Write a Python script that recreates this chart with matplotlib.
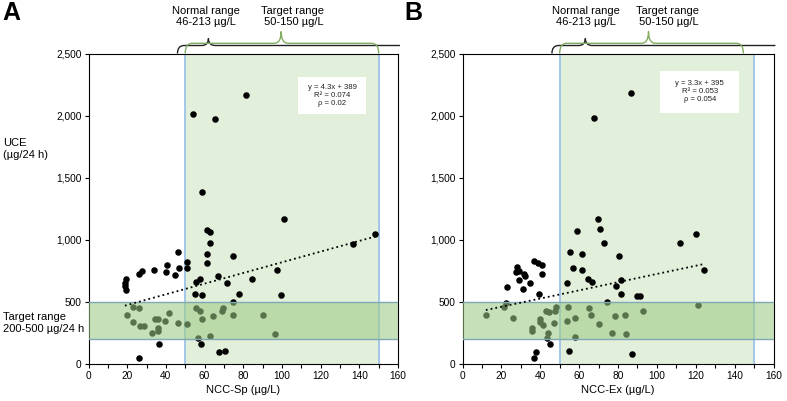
import matplotlib
matplotlib.use('Agg')
import matplotlib.pyplot as plt
import numpy as np
from matplotlib.path import Path
from matplotlib.patches import PathPatch, Rectangle
import matplotlib.transforms as mtransforms
from matplotlib.ticker import FuncFormatter, MultipleLocator

plt.rcParams['font.family'] = ['Liberation Sans', 'DejaVu Sans']

# ---------------- data ----------------
sp_x = [53.8, 65.6, 81.3, 58.6, 101.3, 148.2, 136.7, 61.5, 62.7, 62.7, 61.5, 74.5, 46.2, 50.8,
        61.5, 40.8, 46.7, 50.8, 97.4, 33.8, 27.5, 26.1, 40.0, 44.6, 66.7, 19.3, 57.6, 84.4,
        55.5, 18.8, 19.1, 19.3, 71.8, 55.2, 58.6, 77.7, 99.3, 74.7,
        23.1, 26.2, 20.0, 22.9, 26.8, 28.9, 32.8, 34.5, 36.0, 36.0, 35.9, 39.8, 41.7, 46.2,
        50.8, 55.5, 57.6, 58.6, 56.6, 62.7, 64.6, 68.9, 69.6, 74.5, 90.3, 96.2,
        36.7, 58.1, 67.7, 70.8, 26.0]
sp_y = [2016, 1976, 2169, 1385, 1169, 1043, 968, 1081, 1065, 976, 882, 868, 898, 823,
        812, 798, 774, 774, 753, 755, 745, 723, 739, 720, 710, 683, 683, 683,
        659, 651, 624, 599, 653, 562, 554, 562, 554, 497,
        457, 452, 392, 336, 309, 309, 250, 365, 360, 288, 269, 349, 414, 333,
        323, 449, 425, 365, 210, 223, 384, 425, 454, 395, 398, 239,
        161, 161, 97, 107, 46]

ex_x = [86.8, 67.4, 69.5, 59.1, 70.7, 72.9, 111.8, 120.0, 55.1, 61.6, 80.6, 56.7, 61.6, 124.1,
        64.4, 66.6, 53.8, 79.1, 81.5, 81.5, 90.0, 91.3, 74.1,
        36.8, 38.9, 41.1, 41.1, 28.2, 27.7, 29.1, 31.5, 32.0, 29.1, 34.6, 22.8, 31.3, 39.5, 22.4,
        21.2, 12.0, 26.2, 39.7, 39.9, 41.2, 35.8, 35.9, 42.8, 44.5, 47.4, 48.1, 46.9, 43.8,
        43.5, 54.1, 53.8, 57.9, 57.7, 65.1, 66.3, 70.2, 77.0, 78.4, 83.4, 84.1, 93.1, 121.4,
        44.8, 37.9, 36.8, 54.6, 87.3]
ex_y = [2180, 1981, 1169, 1070, 1083, 978, 973, 1048, 901, 882, 868, 774, 755, 755,
        683, 664, 656, 632, 675, 562, 551, 551, 500,
        828, 814, 798, 723, 777, 742, 745, 723, 707, 680, 653, 618, 602, 562, 495,
        460, 392, 368, 363, 336, 312, 293, 269, 427, 417, 430, 457, 333, 250,
        212, 457, 349, 368, 220, 449, 392, 320, 250, 384, 398, 239, 427, 478,
        161, 97, 46, 105, 81]

fit_sp = (4.3, 389)
fit_ex = (3.3, 395)
stats_sp = "y = 4.3x + 389\nR² = 0.074\nρ = 0.02"
stats_ex = "y = 3.3x + 395\nR² = 0.053\nρ = 0.054"
xlabels = ["NCC-Sp (µg/L)", "NCC-Ex (µg/L)"]
panel_letters = ["A", "B"]
x_ticks = [0, 20, 40, 60, 80, 100, 120, 140, 160]
y_ticks = [0, 500, 1000, 1500, 2000, 2500]
normal_range = (46, 213)
target_ncc = (50, 150)
target_uce = (200, 500)

# ---------------- figure ----------------
W, H = 787, 401
fig = plt.figure(figsize=(W / 100, H / 100), dpi=100)


def rect(l, t, w, h):
    return [l / W, 1 - (t + h) / H, w / W, h / H]


def fy(p):
    return 1 - p / H


axA = fig.add_axes(rect(88.5, 53.5, 309.5, 310.5))
axB = fig.add_axes(rect(462.5, 53.5, 311, 310.5))

VBAND = '#e2efda'
VEDGE = '#9dc3e6'
HBAND = '#9ccb86'
HEDGE = '#7fa8b4'
GBRACE = '#82ad62'


def brace(ax, x0, x1, xtip, y_line, y_tip, y_end, color, right_end=True, r=3.5, tw=3.5, lw=1.0):
    trans = mtransforms.blended_transform_factory(ax.transData, fig.transFigure)
    yl, yt, ye = fy(y_line), fy(y_tip), fy(y_end)
    verts = [(x0, ye), (x0, yl), (x0 + r, yl),
             (xtip - tw, yl), (xtip, yl), (xtip, yt), (xtip, yl), (xtip + tw, yl)]
    codes = [Path.MOVETO, Path.CURVE3, Path.CURVE3,
             Path.LINETO, Path.CURVE3, Path.CURVE3, Path.CURVE3, Path.CURVE3]
    if right_end:
        verts += [(x1 - r, yl), (x1, yl), (x1, ye)]
        codes += [Path.LINETO, Path.CURVE3, Path.CURVE3]
    else:
        verts += [(x1, yl)]
        codes += [Path.LINETO]
    p = PathPatch(Path(verts, codes), fill=False, edgecolor=color, lw=lw,
                  transform=trans, clip_on=False, zorder=10)
    fig.add_artist(p)


def panel(ax, xs, ys, fit, stats, xlabel, box, green_end, green_tip, black_tip, text_x):
    ax.set_xlim(0, 160)
    ax.set_ylim(0, 2500)
    ax.axvspan(target_ncc[0], target_ncc[1], color=VBAND, lw=0, zorder=0)
    for v in target_ncc:
        ax.axvline(v, color=VEDGE, lw=1.3, zorder=1)
    ax.scatter(xs, ys, s=22, color='black', linewidths=0, zorder=2)
    ax.axhspan(target_uce[0], target_uce[1], color=HBAND, alpha=0.57, lw=0, zorder=3)
    for v in target_uce:
        ax.axhline(v, color=HEDGE, lw=1.0, zorder=3.5)
    xx = np.array([min(xs), max(xs)])
    ax.plot(xx, fit[0] * xx + fit[1], color='black', ls=(0, (1, 1.7)), lw=1.3, zorder=4)
    bx0, by0, bx1, by1 = box
    ax.add_patch(Rectangle((bx0, by0), bx1 - bx0, by1 - by0, transform=ax.transAxes,
                           facecolor='white', edgecolor='none', zorder=5))
    ax.text((bx0 + bx1) / 2, (by0 + by1) / 2, stats, transform=ax.transAxes,
            ha='center', va='center', fontsize=5.6, linespacing=1.25, zorder=6, color='#222222')

    ax.set_xticks(x_ticks)
    ax.xaxis.set_minor_locator(MultipleLocator(10))
    ax.set_yticks(y_ticks)
    ax.yaxis.set_major_formatter(FuncFormatter(lambda v, p: f"{int(v):,}"))
    ax.tick_params(which='both', direction='out', length=3, width=0.8, labelsize=7.3, pad=2,
                   top=False, right=False, colors='black')
    for s in ax.spines.values():
        s.set_linewidth(0.8)
        s.set_color('black')
    ax.set_xlabel(xlabel, fontsize=8, labelpad=3)

    # braces
    brace(ax, normal_range[0], 161, black_tip, 45.5, 38.5, 53.5, '#222222', right_end=False)
    brace(ax, target_ncc[0], green_end, green_tip, 43.3, 31.5, 53.5, GBRACE, right_end=True)
    trans = mtransforms.blended_transform_factory(ax.transData, fig.transFigure)
    ax.text(text_x[0], fy(5.5), "Normal range\n%d-%d µg/L" % normal_range, transform=trans,
            ha='center', va='top', fontsize=8, linespacing=1.15, clip_on=False)
    ax.text(text_x[1], fy(5.5), "Target range\n %d-%d µg/L" % target_ncc, transform=trans,
            ha='center', va='top', fontsize=8, linespacing=1.15, clip_on=False)


panel(axA, sp_x, sp_y, fit_sp, stats_sp, xlabels[0], (0.678, 0.806, 0.896, 0.924),
      150, 99.6, 62, (60.8, 105.3))
panel(axB, ex_x, ex_y, fit_ex, stats_ex, xlabels[1], (0.636, 0.809, 0.890, 0.945),
      144.5, 95.7, 63.2, (63.7, 105.3))

fig.text(2 / W, fy(1), panel_letters[0], fontsize=18, fontweight='bold', ha='left', va='top')
fig.text(404 / W, fy(1), panel_letters[1], fontsize=18, fontweight='bold', ha='left', va='top')
fig.text(3 / W, fy(137.5), "UCE\n(µg/24 h)", fontsize=8, ha='left', va='top', linespacing=1.3)
fig.text(3 / W, fy(311.5), "Target range\n200-500 µg/24 h", fontsize=8, ha='left', va='top',
         linespacing=1.3)

fig.savefig('out.png', dpi=100)
